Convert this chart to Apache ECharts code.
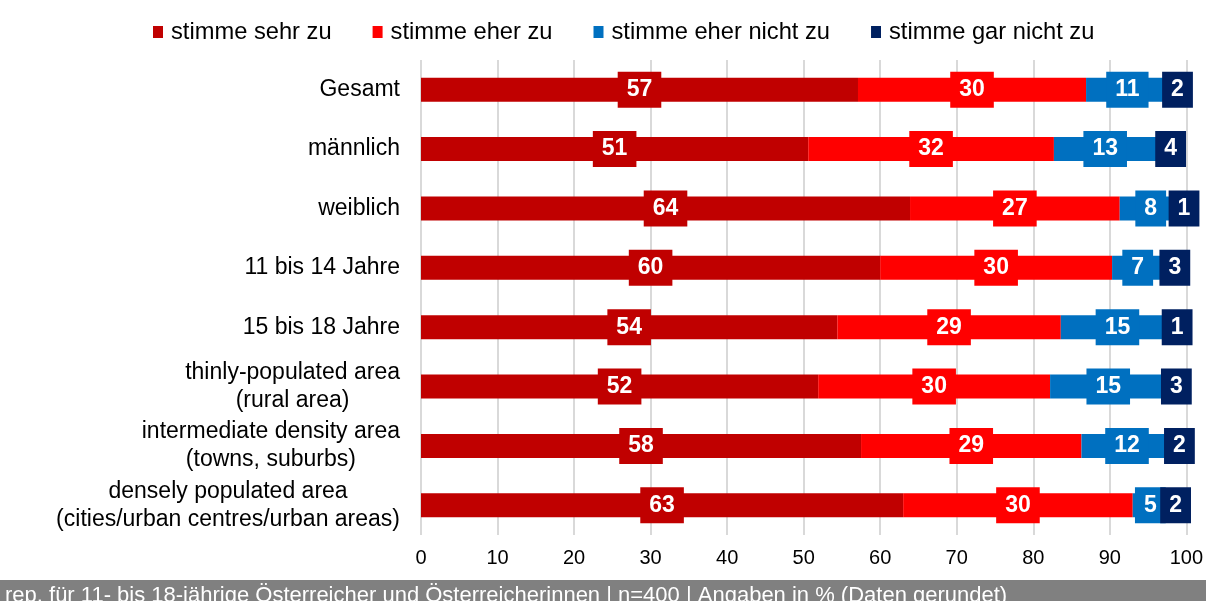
<!DOCTYPE html>
<html>
<head>
<meta charset="utf-8">
<script src="https://cdn.jsdelivr.net/npm/echarts@6/dist/echarts.min.js"></script>
<style>
html,body{margin:0;padding:0;background:#fff;}
#chart{width:1206px;height:601px;}
</style>
</head>
<body>
<div id="chart"></div>
<script>
const categories = [
  'Gesamt',
  'männlich',
  'weiblich',
  '11 bis 14 Jahre',
  '15 bis 18 Jahre',
  'thinly-populated area\n(rural area)',
  'intermediate density area\n(towns, suburbs)',
  'densely populated area\n(cities/urban centres/urban areas)'
];
const seriesNames = ['stimme sehr zu', 'stimme eher zu', 'stimme eher nicht zu', 'stimme gar nicht zu'];
const sehrZu      = [57.1, 50.6, 63.9, 60.0, 54.4, 51.9, 57.5, 63.0];
const eherZu      = [29.8, 32.1, 27.4, 30.3, 29.2, 30.3, 28.8, 30.0];
const eherNichtZu = [10.8, 13.4, 8.1, 6.7, 14.8, 15.2, 11.9, 4.6];
const garNichtZu  = [2.4, 3.7, 0.7, 3.0, 0.8, 2.6, 1.8, 2.0];
const xTicks = [0, 10, 20, 30, 40, 50, 60, 70, 80, 90, 100];
const footerText = 'rep. für 11- bis 18-jährige Österreicher und Österreicherinnen | n=400 | Angaben in % (Daten gerundet)';

const colors = ['#c00000', '#ff0000', '#0070c0', '#002060'];
const values = [sehrZu, eherZu, eherNichtZu, garNichtZu];
const FONT = 'Liberation Sans, Arial, sans-serif';

const chart = echarts.init(document.getElementById('chart'), null, {renderer: 'canvas'});

const series = seriesNames.map((name, i) => ({
  name: name,
  type: 'bar',
  stack: 'total',
  barWidth: 24,
  data: values[i],
  itemStyle: {color: colors[i]},
  label: {
    show: true,
    position: 'inside',
    formatter: p => String(Math.round(p.value)),
    color: '#fff',
    fontFamily: FONT,
    fontWeight: 'bold',
    fontSize: 23,
    lineHeight: 22,
    backgroundColor: colors[i],
    padding: [7, 9]
  },
  emphasis: {disabled: true}
}));

chart.setOption({
  animation: false,
  color: colors,
  textStyle: {fontFamily: FONT},
  legend: {
    data: seriesNames,
    top: 15,
    left: 148,
    icon: 'rect',
    itemWidth: 10,
    itemHeight: 12,
    itemGap: 41,
    textStyle: {fontSize: 23.7, color: '#000', padding: [0, 0, 0, 3]},
    selectedMode: false
  },
  grid: {left: 421, right: 19, top: 60, bottom: 66, containLabel: false},
  xAxis: {
    type: 'value',
    min: xTicks[0],
    max: xTicks[xTicks.length - 1],
    interval: 10,
    axisLine: {show: false},
    axisTick: {show: false},
    axisLabel: {fontSize: 20, color: '#000', margin: 13},
    splitLine: {show: true, lineStyle: {color: '#d9d9d9', width: 2}}
  },
  yAxis: {
    type: 'category',
    data: categories,
    inverse: true,
    axisLine: {show: false},
    axisTick: {show: false},
    axisLabel: {
      margin: 21,
      align: 'right',
      formatter: v => v.split('\n').map(l => '{c|' + l + '}').join('\n'),
      rich: {
        c: {fontSize: 23, lineHeight: 28, color: '#000', align: 'center', fontFamily: FONT}
      }
    }
  },
  series: series,
  graphic: [
    {type: 'rect', left: 0, top: 580, shape: {width: 1206, height: 30}, style: {fill: '#808080'}, silent: true},
    {type: 'text', x: 5, y: 596, style: {text: footerText, fill: '#fff', fontSize: 22, fontFamily: FONT, verticalAlign: 'middle'}, silent: true}
  ]
});
</script>
</body>
</html>
